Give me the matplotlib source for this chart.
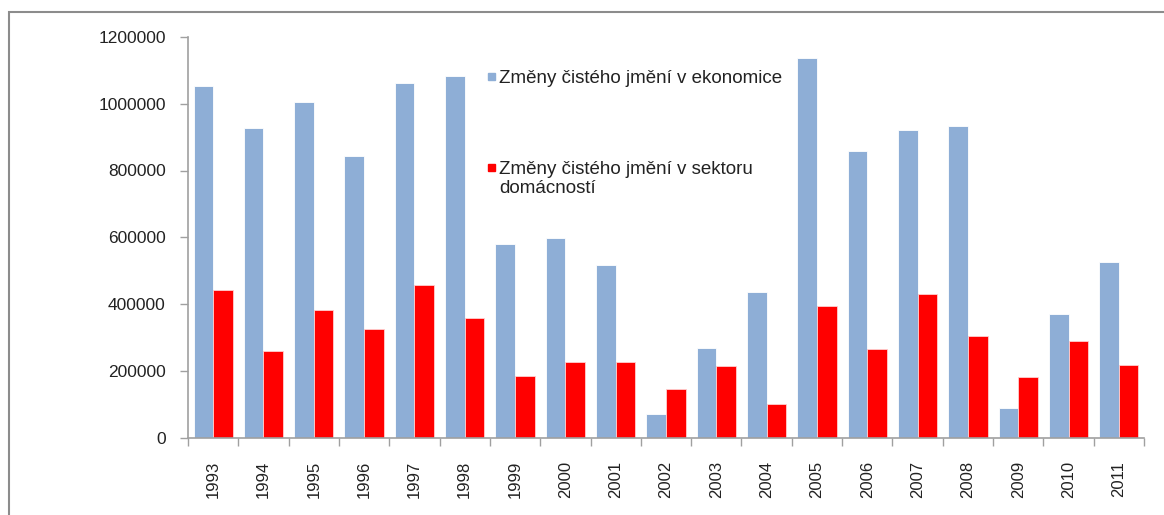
import matplotlib.pyplot as plt
import numpy as np
from matplotlib.patches import Rectangle

years = [str(y) for y in range(1993, 2012)]
economy = [1053000, 927000, 1005000, 843000, 1062000, 1083000, 579000, 597000,
           516000, 69000, 267000, 435000, 1137000, 858000, 921000, 933000,
           87000, 369000, 525000]
households = [441000, 258000, 381000, 324000, 456000, 357000, 183000, 225000,
              225000, 144000, 213000, 99000, 393000, 264000, 429000, 303000,
              180000, 288000, 216000]
label_econ = "Změny čistého jmění v ekonomice"
label_house = "Změny čistého jmění v sektoru\ndomácností"

plt.rcParams['font.family'] = ['Liberation Sans', 'DejaVu Sans']

W, H = 1164, 515
fig = plt.figure(figsize=(W / 100, H / 100), dpi=100)
ax = fig.add_axes([188 / W, 1 - 437.5 / H, (1144 - 188) / W, (437.5 - 37) / H])

blue = '#8EAED6'
red = '#FF0000'
x = np.arange(len(years))
bw = 0.39
ax.bar(x - bw / 2, economy, bw, color=blue, edgecolor='white', linewidth=0.6)
ax.bar(x + bw / 2, households, bw, color=red, edgecolor='#ffd0d0', linewidth=0.6)

ax.set_xlim(-0.5, len(years) - 0.5)
ax.set_ylim(0, 1200000)
ax.set_yticks(range(0, 1200001, 200000))
ax.set_yticklabels([str(v) for v in range(0, 1200001, 200000)])
ax.set_xticks(x)
ax.set_xticklabels(years, rotation=90)
ax.set_xticks(np.arange(-0.5, len(years)), minor=True)

gray = '#A0A0A0'
for s in ['top', 'right']:
    ax.spines[s].set_visible(False)
for s in ['left', 'bottom']:
    ax.spines[s].set_color(gray)
    ax.spines[s].set_linewidth(1.2)
ax.tick_params(axis='y', colors=gray, labelcolor='#222222', labelsize=12.5,
               length=6, width=1, pad=10)
ax.tick_params(axis='x', which='major', length=0, labelcolor='#222222',
               labelsize=12, pad=17)
ax.tick_params(axis='x', which='minor', length=6, width=1, colors=gray)

# legend drawn by hand: markers sit level with the first text line
for (ytop, col, lab) in [(70, blue, label_econ), (161, red, label_house)]:
    fig.patches.append(Rectangle((488 / W, 1 - (ytop + 10) / H), 7 / W, 7 / H,
                                 transform=fig.transFigure, color=col))
    fig.text(499 / W, 1 - ytop / H, lab, fontsize=13.5, color='#222222',
             va='top', ha='left', linespacing=1.15)

fig.patches.append(Rectangle((9 / W, -0.05), 1.1, 1 - 11.5 / H + 0.05,
                             transform=fig.transFigure, fill=False,
                             edgecolor='#8C8C8C', linewidth=1.5))

fig.savefig('out.png', dpi=100)
